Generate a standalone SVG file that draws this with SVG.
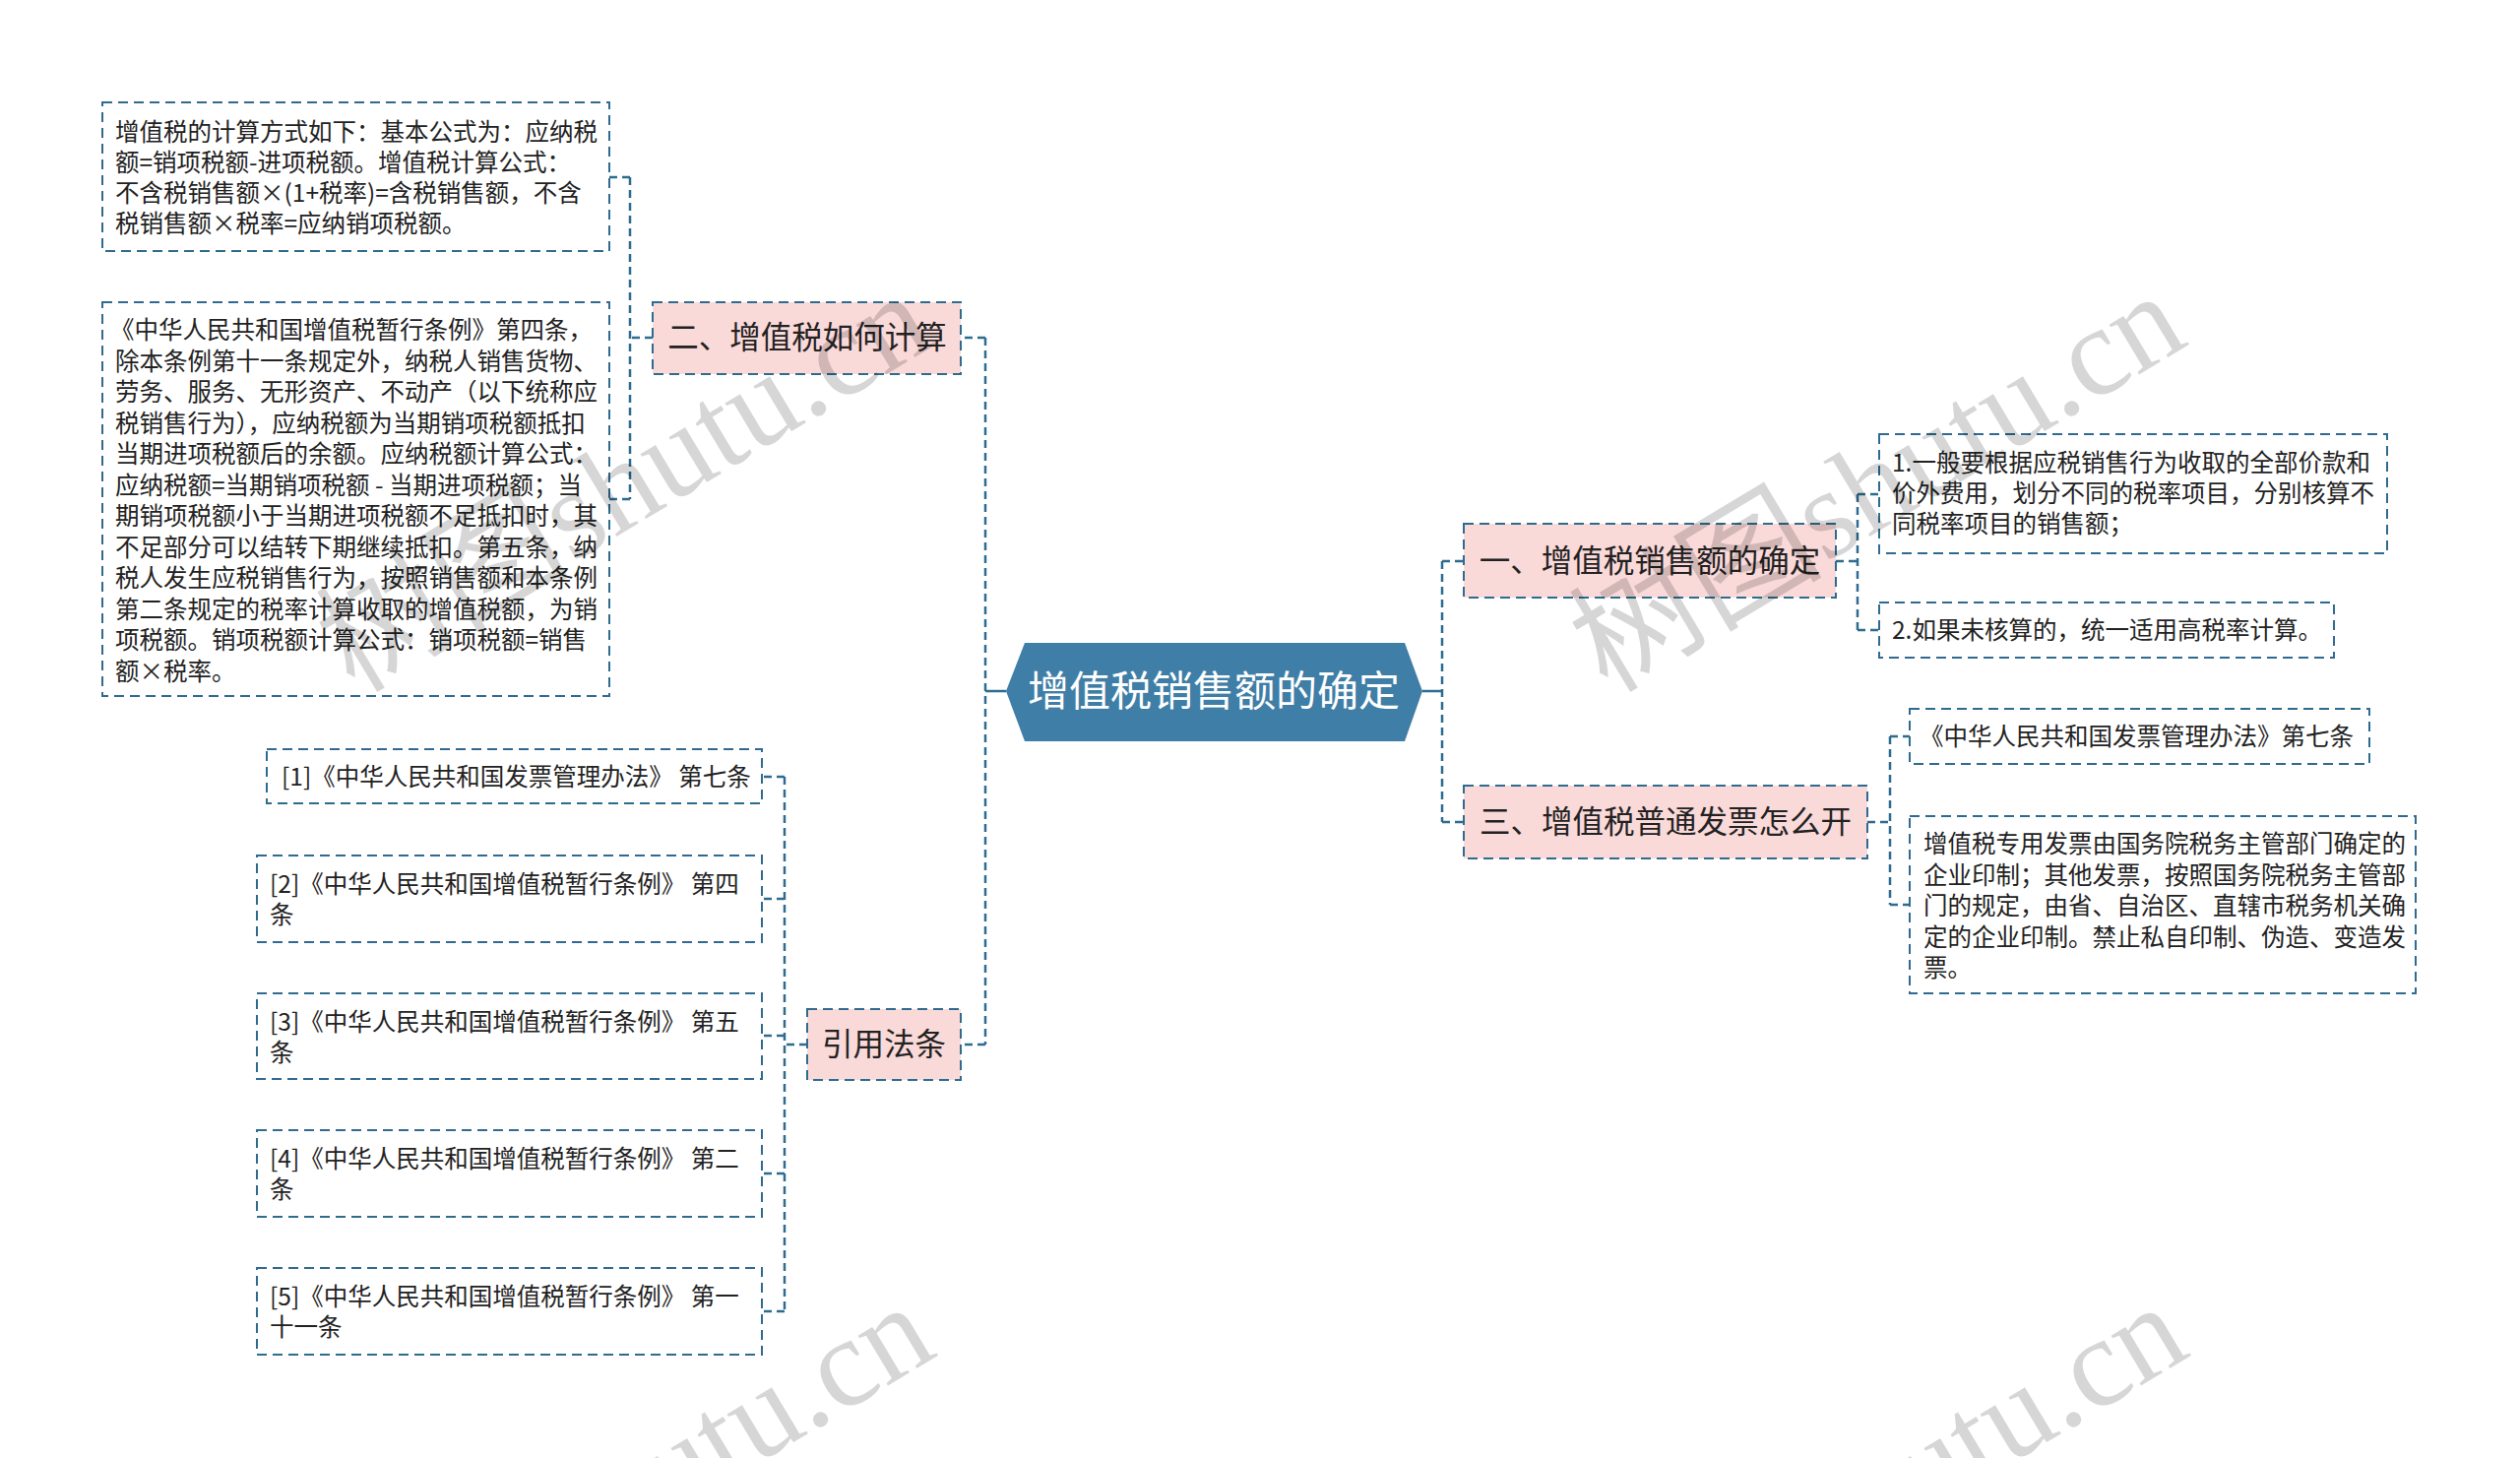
<svg xmlns="http://www.w3.org/2000/svg" width="2560" height="1481" viewBox="0 0 2560 1481">
<style>
.box{fill:#ffffff;stroke:#2f6b90;stroke-width:2;stroke-dasharray:10 6}
.tbox{fill:#fad9d9;stroke:#2f6b90;stroke-width:2;stroke-dasharray:10 6}
.conn{fill:none;stroke:#2f6b90;stroke-width:2.5;stroke-dasharray:8 5}
.solid{fill:none;stroke:#2f6b90;stroke-width:2.5}
.t{font-family:"Noto Sans CJK SC","Noto Sans",sans-serif;font-size:24.5px;fill:#222222}
.tt{font-family:"Noto Sans CJK SC","Noto Sans",sans-serif;font-size:31.5px;fill:#222222;text-anchor:middle}
.ct{font-family:"Noto Sans CJK SC","Noto Sans",sans-serif;font-size:42px;fill:#ffffff;text-anchor:middle}
.wm{font-family:"Liberation Serif","Noto Sans CJK SC",serif;font-size:129px;fill:#000000;fill-opacity:0.16}
</style>
<rect width="2560" height="1481" fill="#ffffff"/>

<g id="connectors">
<path class="solid" d="M1022 702 H1001"/>
<path class="conn" d="M1001 343 V1061"/>
<path class="conn" d="M1001 343 H976"/>
<path class="conn" d="M1001 1061 H976"/>
<path class="solid" d="M1445 702 H1465"/>
<path class="conn" d="M1465 570 V835"/>
<path class="conn" d="M1465 570 H1487"/>
<path class="conn" d="M1465 835 H1487"/>
<path class="conn" d="M663 343 H640 M640 180 V507 M640 180 H619 M640 507 H619"/>
<path class="conn" d="M1865 570 H1887 M1887 502 V640 M1887 502 H1909 M1887 640 H1909"/>
<path class="conn" d="M1897 835 H1920 M1920 748 V919 M1920 748 H1940 M1920 919 H1940"/>
<path class="conn" d="M820 1061 H797 M797 789 V1332 M797 789 H774 M797 913 H774 M797 1052 H774 M797 1192 H774 M797 1332 H774"/>
</g>

<g id="central">
<polygon points="1022,702 1041,653 1427,653 1445,702 1427,753 1041,753" fill="#3f7ea6"/>
<text class="ct" x="1233" y="717">增值税销售额的确定</text>
</g>

<g id="n-er">
<rect class="tbox" x="663" y="307" width="313" height="73"/>
<text class="tt" x="820" y="354">二、增值税如何计算</text>
</g>

<g id="n-er-1">
<rect class="box" x="104" y="104" width="515" height="151"/>
<text class="t"><tspan x="117" y="143">增值税的计算方式如下：基本公式为：应纳税</tspan><tspan x="117" y="174">额=销项税额-进项税额。增值税计算公式：</tspan><tspan x="117" y="205">不含税销售额×(1+税率)=含税销售额，不含</tspan><tspan x="117" y="236">税销售额×税率=应纳销项税额。</tspan></text>
</g>

<g id="n-er-2">
<rect class="box" x="104" y="307" width="515" height="400"/>
<text class="t"><tspan x="112" y="344">《中华人民共和国增值税暂行条例》第四条，</tspan><tspan x="117" y="375.5">除本条例第十一条规定外，纳税人销售货物、</tspan><tspan x="117" y="407">劳务、服务、无形资产、不动产（以下统称应</tspan><tspan x="117" y="438.5">税销售行为），应纳税额为当期销项税额抵扣</tspan><tspan x="117" y="470">当期进项税额后的余额。应纳税额计算公式：</tspan><tspan x="117" y="501.5">应纳税额=当期销项税额 - 当期进项税额；当</tspan><tspan x="117" y="533">期销项税额小于当期进项税额不足抵扣时，其</tspan><tspan x="117" y="564.5">不足部分可以结转下期继续抵扣。第五条，纳</tspan><tspan x="117" y="596">税人发生应税销售行为，按照销售额和本条例</tspan><tspan x="117" y="627.5">第二条规定的税率计算收取的增值税额，为销</tspan><tspan x="117" y="659">项税额。销项税额计算公式：销项税额=销售</tspan><tspan x="117" y="690.5">额×税率。</tspan></text>
</g>

<g id="n-yinyong">
<rect class="tbox" x="820" y="1025" width="156" height="72"/>
<text class="tt" x="898" y="1072">引用法条</text>
</g>

<g id="ref-1">
<rect class="box" x="271" y="761" width="503" height="55"/>
<text class="t" x="286" y="798">[1]《中华人民共和国发票管理办法》 第七条</text>
</g>
<g id="ref-2">
<rect class="box" x="261" y="869" width="513" height="88"/>
<text class="t"><tspan x="274" y="907">[2]《中华人民共和国增值税暂行条例》 第四</tspan><tspan x="274" y="938">条</tspan></text>
</g>
<g id="ref-3">
<rect class="box" x="261" y="1009" width="513" height="87"/>
<text class="t"><tspan x="274" y="1047">[3]《中华人民共和国增值税暂行条例》 第五</tspan><tspan x="274" y="1078">条</tspan></text>
</g>
<g id="ref-4">
<rect class="box" x="261" y="1148" width="513" height="88"/>
<text class="t"><tspan x="274" y="1186">[4]《中华人民共和国增值税暂行条例》 第二</tspan><tspan x="274" y="1217">条</tspan></text>
</g>
<g id="ref-5">
<rect class="box" x="261" y="1288" width="513" height="88"/>
<text class="t"><tspan x="274" y="1326">[5]《中华人民共和国增值税暂行条例》 第一</tspan><tspan x="274" y="1357">十一条</tspan></text>
</g>

<g id="n-yi">
<rect class="tbox" x="1487" y="532" width="378" height="75"/>
<text class="tt" x="1676" y="581">一、增值税销售额的确定</text>
</g>
<g id="n-yi-1">
<rect class="box" x="1909" y="441" width="516" height="121"/>
<text class="t"><tspan x="1922" y="479">1.一般要根据应税销售行为收取的全部价款和</tspan><tspan x="1922" y="510">价外费用，划分不同的税率项目，分别核算不</tspan><tspan x="1922" y="541">同税率项目的销售额；</tspan></text>
</g>
<g id="n-yi-2">
<rect class="box" x="1909" y="612" width="462" height="56"/>
<text class="t" x="1922" y="649">2.如果未核算的，统一适用高税率计算。</text>
</g>

<g id="n-san">
<rect class="tbox" x="1487" y="798" width="410" height="74"/>
<text class="tt" x="1692" y="846">三、增值税普通发票怎么开</text>
</g>
<g id="n-san-1">
<rect class="box" x="1940" y="720" width="467" height="56"/>
<text class="t" x="1950" y="757">《中华人民共和国发票管理办法》第七条</text>
</g>
<g id="n-san-2">
<rect class="box" x="1940" y="829" width="514" height="180"/>
<text class="t"><tspan x="1954" y="866">增值税专用发票由国务院税务主管部门确定的</tspan><tspan x="1954" y="897.5">企业印制；其他发票，按照国务院税务主管部</tspan><tspan x="1954" y="929">门的规定，由省、自治区、直辖市税务机关确</tspan><tspan x="1954" y="960.5">定的企业印制。禁止私自印制、伪造、变造发</tspan><tspan x="1954" y="992">票。</tspan></text>
</g>

<g id="watermarks">
<text class="wm" transform="translate(360 705) rotate(-31)">树图shutu.cn</text>
<text class="wm" transform="translate(1633 705) rotate(-31)">树图shutu.cn</text>
<text class="wm" transform="translate(362 1732) rotate(-31)">树图shutu.cn</text>
<text class="wm" transform="translate(1635 1732) rotate(-31)">树图shutu.cn</text>
</g>
</svg>
